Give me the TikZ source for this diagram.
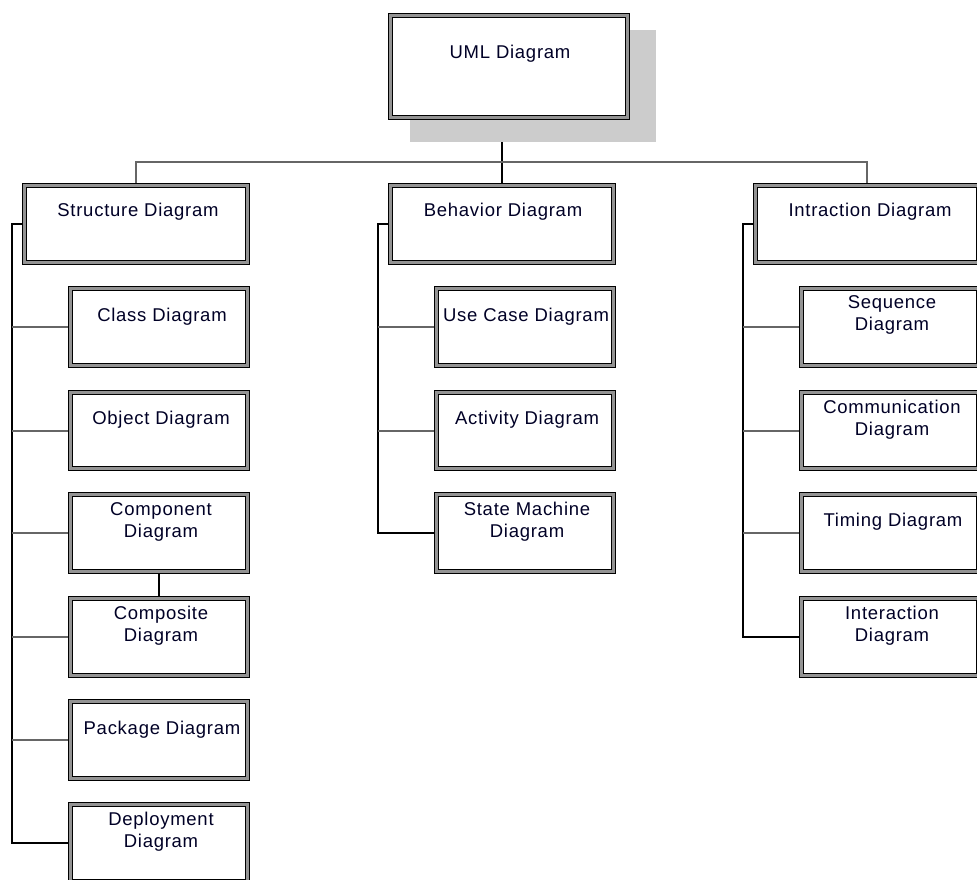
\documentclass[tikz,border=0pt]{standalone}
\usepackage{fontspec}
\setmainfont{Liberation Sans}[LetterSpace=4]
\usetikzlibrary{backgrounds}
\begin{document}
\begin{tikzpicture}[x=1pt,y=-1pt,
  box/.style={draw=black, line width=1pt, double=gray!85, double distance=3.5pt, fill=white, inner sep=0pt},
  lbl/.style={font=\fontsize{18.5}{22}\selectfont, align=center, text=black!85!blue, inner sep=0pt},
  spine/.style={draw=black, line width=1.3pt},
  stub/.style={draw=gray!80!black, line width=2pt},
  bus/.style={draw=gray!80!black, line width=1.6pt}]
\useasboundingbox (0,0) rectangle (977,880);
\clip (0,0) rectangle (977,880);
% shadow of root
\fill[gray!40] (410,30) rectangle (656,142);
% root
\node[box, minimum width=237pt, minimum height=102pt] (uml) at (509,66.5) {};
\node[lbl] (umlt) at (510,54) {UML Diagram};
% level 1
\node[box, minimum width=223pt, minimum height=77pt] (str) at (136,224) {};
\node[lbl] (strt) at (138,212) {Structure Diagram};
\node[box, minimum width=223pt, minimum height=77pt] (beh) at (502,224) {};
\node[lbl] (beht) at (503,212) {Behavior Diagram};
\node[box, minimum width=223pt, minimum height=77pt] (int) at (867,224) {};
\node[lbl] (intt) at (870,212) {Intraction Diagram};
% structure children
\node[box, minimum width=177pt, minimum height=77pt] (cls) at (159,327) {};
\node[lbl] (clst) at (162,317) {Class Diagram};
\node[box, minimum width=177pt, minimum height=76pt] (obj) at (159,430.5) {};
\node[lbl] (objt) at (161,420) {Object Diagram};
\node[box, minimum width=177pt, minimum height=77pt] (cmp) at (159,533) {};
\node[lbl] (cmpt) at (161,522) {Component\\Diagram};
\node[box, minimum width=177pt, minimum height=77pt] (csd) at (159,637) {};
\node[lbl] (csdt) at (161,626) {Composite\\Diagram};
\node[box, minimum width=177pt, minimum height=77pt] (pkg) at (159,740) {};
\node[lbl] (pkgt) at (162,730) {Package Diagram};
\node[box, minimum width=177pt, minimum height=77pt] (dep) at (159,843) {};
\node[lbl] (dept) at (161,832) {Deployment\\Diagram};
% behavior children
\node[box, minimum width=177pt, minimum height=77pt] (uc) at (525,327) {};
\node[lbl] (uct) at (526,317) {Use Case Diagram};
\node[box, minimum width=177pt, minimum height=76pt] (act) at (525,430.5) {};
\node[lbl] (actt) at (527,420) {Activity Diagram};
\node[box, minimum width=177pt, minimum height=77pt] (stm) at (525,533) {};
\node[lbl] (stmt) at (527,522) {State Machine\\Diagram};
% interaction children
\node[box, minimum width=177pt, minimum height=77pt] (seq) at (890,327) {};
\node[lbl] (seqt) at (892,315) {Sequence\\Diagram};
\node[box, minimum width=177pt, minimum height=76pt] (com) at (890,430.5) {};
\node[lbl] (comt) at (892,420) {Communication\\Diagram};
\node[box, minimum width=177pt, minimum height=77pt] (tim) at (890,533) {};
\node[lbl] (timt) at (893,522) {Timing Diagram};
\node[box, minimum width=177pt, minimum height=77pt] (itr) at (890,637) {};
\node[lbl] (itrt) at (892,626) {Interaction\\Diagram};
% connectors
\coordinate (busy) at (0,162);
\coordinate (sp1) at (12,0);
\coordinate (sp2) at (378,0);
\coordinate (sp3) at (743,0);
\begin{pgfonlayer}{background}
\draw[spine] (beh.north) -- (beh.north |- uml.south);
\draw[bus] (str.north) -- (str.north |- busy) -- (int.north |- busy) -- (int.north);
\draw[spine] (str.west) -- (str.west -| sp1) -- (sp1 |- dep.west) -- (dep.west);
\foreach \n in {cls,obj,cmp,csd,pkg}{\draw[stub] (\n.west) -- (\n.west -| sp1);}
\draw[spine] (cmp.south) -- (csd.north);
\draw[spine] (beh.west) -- (beh.west -| sp2) -- (sp2 |- stm.west) -- (stm.west);
\foreach \n in {uc,act}{\draw[stub] (\n.west) -- (\n.west -| sp2);}
\draw[spine] (int.west) -- (int.west -| sp3) -- (sp3 |- itr.west) -- (itr.west);
\foreach \n in {seq,com,tim}{\draw[stub] (\n.west) -- (\n.west -| sp3);}
\end{pgfonlayer}
\end{tikzpicture}
\end{document}
